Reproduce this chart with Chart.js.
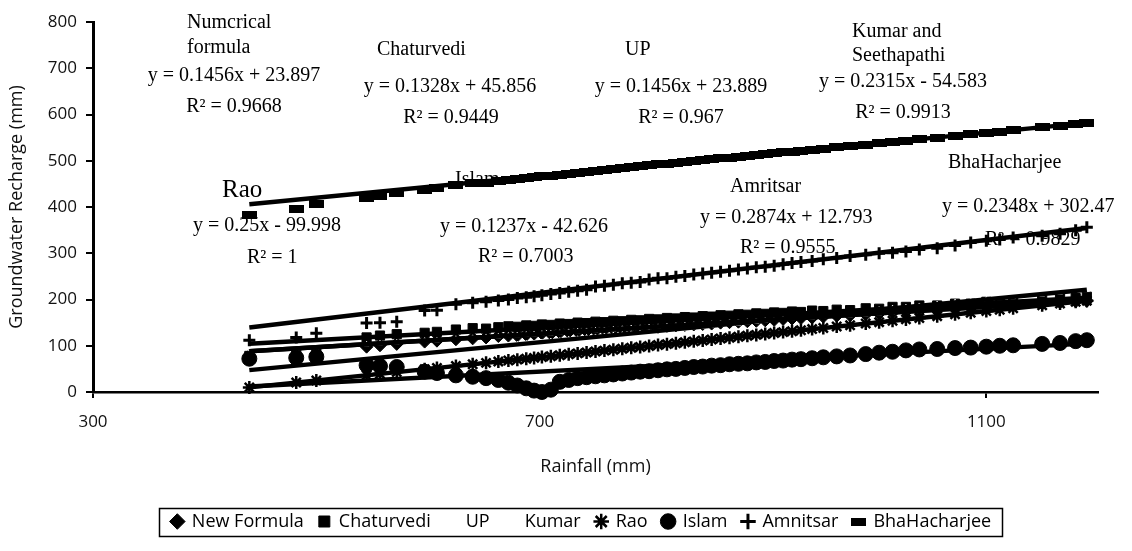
<!DOCTYPE html>
<html><head><meta charset="utf-8">
<script src="https://cdn.jsdelivr.net/npm/chart.js@4.4.1/dist/chart.umd.min.js"></script>
<style>html,body{margin:0;padding:0;background:#fff;}#wrap{width:1132px;height:551px;position:relative;}</style>
</head><body><div id="wrap"><canvas id="c" width="1132" height="551"></canvas></div>
<script>
// ---------- data ----------
const rainfall = [440,482,500,545,557,572,597,608,625,640,652,663,672,680,688,695,702,710,718,726,734,742,750,758,766,774,782,790,798,806,814,822,830,838,846,854,862,870,878,886,894,902,910,918,926,934,944,954,966,978,992,1004,1016,1028,1040,1056,1072,1086,1100,1112,1124,1150,1166,1180,1190];
const newFormula = [78,80,84,98,101,104,109,111,114,116,118,121,122,122,124,126,127,126,129,130,131,132,133,135,136,137,138,139,140,141,143,144,145,146,147,148,150,151,152,153,154,155,156,158,159,160,161,163,165,166,168,170,172,174,175,178,180,182,184,186,188,191,194,196,197];
const chaturvedi = [78,85,88,118,122,125,128,130,135,138,137,140,142,141,144,143,146,145,148,147,150,149,152,151,154,153,156,155,158,157,160,159,162,161,164,163,166,165,168,167,170,169,172,171,174,173,176,175,178,177,181,180,184,184,187,187,191,191,195,194,198,199,203,203,206];
const up = [86,93,96,103,105,107,111,112,115,117,119,120,122,123,124,125,126,127,128,130,131,132,133,134,135,137,138,139,140,141,142,144,145,146,147,148,149,151,152,153,154,155,156,158,159,160,161,163,165,166,168,170,172,174,175,178,180,182,184,186,188,191,194,196,197];
const kumar = [49,55,62,70,75,79,82,87,90,95,96,99,100,103,105,106,108,110,111,114,115,118,119,121,123,124,127,128,130,132,134,136,137,140,141,143,145,147,148,151,152,154,156,158,160,161,164,166,169,172,175,178,181,183,186,190,194,197,200,203,205,211,215,219,221];
const rao = [10,20.5,25,36.25,39.25,43,49.25,52,56.25,60,63,65.75,68,70,72,73.75,75.5,77.5,79.5,81.5,83.5,85.5,87.5,89.5,91.5,93.5,95.5,97.5,99.5,101.5,103.5,105.5,107.5,109.5,111.5,113.5,115.5,117.5,119.5,121.5,123.5,125.5,127.5,129.5,131.5,133.5,136,138.5,141.5,144.5,148,151,154,157,160,164,168,171.5,175,178,181,187.5,191.5,195,197.5];
const islam = [72,74,76,58,56,54,44,41,36,33,30,26,20,14,8,3,0,5,22,26,30,32,34,36,38,40,42,44,45,47,49,50,52,54,55,57,58,60,61,62,64,65,67,68,70,71,73,75,77,79,82,85,87,90,92,93,95,96,98,100,101,104,106,110,112];
const amritsar = [112,118,127,149,150,152,176,177,190,193,195,198,200,203,205,207,209,212,214,217,219,221,228,230,232,235,236,238,243,246,246,249,251,254,256,258,260,262,265,267,270,271,273,276,279,281,283,287,290,294,297,300,301,304,308,311,317,323,327,330,334,338,342,350,356];
const bhattacharjee = [383,396,406,419,423,430,437,441,447,451,452,456,458,460,462,464,466,468,470,472,474,476,478,480,482,484,486,488,490,492,494,496,498,500,501,503,505,507,509,511,512,514,516,518,520,522,524,526,529,532,535,538,541,543,546,550,554,557,560,563,566,572,576,579,581];
const seriesNames = ['New Formula','Chaturvedi','UP','Kumar','Rao','Islam','Amnitsar','BhaHacharjee'];
const trendX = [440, 1190];
const trendNewFormula = [87.96, 197.16];
const trendChaturvedi = [104.29, 203.89];
const trendUP = [87.95, 197.15];
const trendKumar = [47.28, 220.9];
const trendRao = [10.0, 197.5];
const trendIslam = [11.8, 104.6];
const trendAmritsar = [139.25, 354.8];
const trendBhattacharjee = [405.8, 581.9];
const xTicks = [300, 700, 1100];
const yTicks = [0, 100, 200, 300, 400, 500, 600, 700, 800];
const labels = [
  ['Numcrical'], ['formula'], ['y = 0.1456x + 23.897'], ['R² = 0.9668'],
  ['Chaturvedi'], ['y = 0.1328x + 45.856'], ['R² = 0.9449'],
  ['UP'], ['y = 0.1456x + 23.889'], ['R² = 0.967'],
  ['Kumar and'], ['Seethapathi'], ['y = 0.2315x - 54.583'], ['R² = 0.9913'],
  ['BhaHacharjee'], ['Rao'], ['y = 0.25x - 99.998'], ['R² = 1'],
  ['Islam'], ['y = 0.1237x - 42.626'], ['R² = 0.7003'],
  ['Amritsar'], ['y = 0.2874x + 12.793'], ['R² = 0.9555'],
  ['y = 0.2348x + 302.47'], ['R² = 0.9829']
];
// ---------- layout of the text labels (pixel placement, style) ----------
const labelPlace = [
  [187,23,'left',20],[187,48,'left',20],[234,76,'center',20],[234,107,'center',20],
  [377,50,'left',20],[450,87,'center',20],[451,118,'center',20],
  [625,50,'left',20],[681,87,'center',20],[681,118,'center',20],
  [852,32,'left',20],[852,56,'left',20],[903,82,'center',20],[903,113,'center',20],
  [948,163,'left',20],[222,190,'left',25],[193,226,'left',20],[247,258,'left',20],
  [455,180,'left',20],[440,227,'left',20],[478,257,'left',20],
  [730,187,'left',20],[700,218,'left',20],[740,248,'left',20],
  [942,207,'left',20],[985,240,'left',20]
];

const barMarker = document.createElement('canvas');
barMarker.width = 15; barMarker.height = 8;
(function(){const g = barMarker.getContext('2d'); g.fillStyle = '#000'; g.fillRect(0,0,15,8);})();

function pts(ys){ return rainfall.map((x,i)=>({x:x, y:ys[i]})); }
function tline(ys){ return trendX.map((x,i)=>({x:x, y:ys[i]})); }

const seriesData = [newFormula, chaturvedi, up, kumar, rao, islam, amritsar, bhattacharjee];
const trendData = [trendNewFormula, trendChaturvedi, trendUP, trendKumar, trendRao, trendIslam, trendAmritsar, trendBhattacharjee];
const seriesStyle = [
  {ps:'rectRot', r:6.5, bg:'#000', bc:'#000', bw:1},
  {ps:'rect', r:6.5, bg:'#000', bc:'#000', bw:1},
  {ps:'triangle', r:3, bg:'#fff', bc:'#fff', bw:1},
  {ps:'triangle', r:3, bg:'#fff', bc:'#fff', bw:1},
  {ps:'star', r:6.5, bg:'#000', bc:'#000', bw:2.5},
  {ps:'circle', r:7.5, bg:'#000', bc:'#000', bw:1},
  {ps:'cross', r:6, bg:'#000', bc:'#000', bw:3},
  {ps:barMarker, r:6, bg:'#000', bc:'#000', bw:1}
];

const datasets = [];
seriesNames.forEach((name, i) => {
  const s = seriesStyle[i];
  datasets.push({
    type:'scatter', label:name, data:pts(seriesData[i]),
    pointStyle:s.ps, pointRadius:s.r, pointHoverRadius:s.r,
    backgroundColor:s.bg, borderColor:s.bc, pointBorderWidth:s.bw, borderWidth:s.bw,
    order: 20 - i, clip:false, showLine:false
  });
});
seriesNames.forEach((name, i) => {
  datasets.push({
    type:'line', label:'', data:tline(trendData[i]),
    borderColor:'#000', borderWidth:4.5, pointRadius:0, fill:false, tension:0,
    order:1, clip:false
  });
});

const LEGEND_SHIFT = -14;
const LEGEND_PAD = 15;
const LEGEND_FONT = 18;
const annotate = {
  id:'annotate',
  afterLayout(chart){
    const lg = chart.legend;
    if (!lg) return;
    lg.left += LEGEND_SHIFT; lg.right += LEGEND_SHIFT;
  },
  beforeDatasetsDraw(chart){
    const ctx = chart.ctx;
    ctx.save();
    ctx.fillStyle = '#000';
    ctx.textBaseline = 'middle';
    labels.forEach((t, i) => {
      const p = labelPlace[i];
      ctx.font = p[3] + 'px "Liberation Serif", "Times New Roman", serif';
      ctx.textAlign = p[2];
      ctx.fillText(t[0], p[0], p[1]);
    });
    ctx.restore();
  },
  afterDraw(chart){
    const lg = chart.legend;
    if (!lg || !lg.lineWidths) return;
    const w = lg.lineWidths[0];
    const startX = (lg.left + LEGEND_PAD + lg.right - w) / 2;
    const cy = lg.top + LEGEND_PAD + LEGEND_FONT / 2;
    const ctx = chart.ctx;
    ctx.save();
    ctx.strokeStyle = '#000'; ctx.lineWidth = 1.5;
    ctx.strokeRect(Math.round(startX - 13) + 0.5, Math.round(cy - 14) + 0.5, Math.round(w - LEGEND_PAD + 24), 28);
    ctx.restore();
  }
};

const tickFont = {family:'"Open Sans", "Noto Sans", sans-serif', size:17};

new Chart(document.getElementById('c'), {
  data:{datasets:datasets},
  options:{
    responsive:false, animation:false, devicePixelRatio:1,
    layout:{padding:{left:0, right:34, top:22, bottom:10.5}},
    plugins:{
      tooltip:{enabled:false},
      legend:{
        position:'bottom', fullSize:false,
        labels:{
          usePointStyle:true, boxWidth:11, boxHeight:11, padding:LEGEND_PAD,
          color:'#000', font:{family:'"Open Sans", "Noto Sans", sans-serif', size:LEGEND_FONT},
          filter:(item) => item.text !== '',
          sort:(a, b) => a.datasetIndex - b.datasetIndex
        }
      }
    },
    scales:{
      x:{
        type:'linear', min:300, max:1200,
        afterBuildTicks:(s) => { s.ticks = xTicks.map(v => ({value:v})); },
        afterFit:(s) => { s.height = 105.5; },
        grid:{drawOnChartArea:false, drawTicks:true, tickLength:6, color:'#000', lineWidth:2},
        border:{display:true, color:'#000', width:2.5},
        ticks:{color:'#111', font:tickFont, padding:14, maxRotation:0, callback:(v) => String(v)},
        title:{display:true, text:'Rainfall (mm)', color:'#111', font:{family:'"Open Sans", "Noto Sans", sans-serif', size:18}, padding:{top:4, bottom:20}}
      },
      y:{
        type:'linear', min:0, max:800,
        afterBuildTicks:(s) => { s.ticks = yTicks.map(v => ({value:v})); },
        afterFit:(s) => { s.width = 93; },
        grid:{drawOnChartArea:false, drawTicks:true, tickLength:7, color:'#000', lineWidth:2},
        border:{display:true, color:'#000', width:3},
        ticks:{color:'#111', font:tickFont, padding:9, callback:(v) => String(v)},
        title:{display:true, text:'Groundwater Recharge (mm)', color:'#111', font:{family:'"Open Sans", "Noto Sans", sans-serif', size:18}, padding:{top:6, bottom:4}}
      }
    }
  },
  plugins:[annotate]
});
</script></body></html>
